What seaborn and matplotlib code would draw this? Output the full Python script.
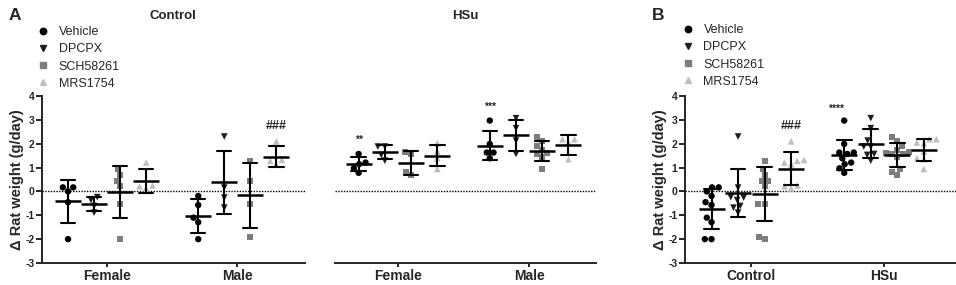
import numpy as np
import pandas as pd
import matplotlib
matplotlib.use("Agg")
import matplotlib.pyplot as plt
from matplotlib.lines import Line2D
import seaborn as sns

# ---------------- data ----------------
treatments = ["Vehicle", "DPCPX", "SCH58261", "MRS1754"]
sexes = ["Female", "Male"]
diets = ["Control", "HSu"]

ctrl_female_vehicle = [0.17, 0.0, 0.17, -0.45, -2.0]
ctrl_female_dpcpx = [-0.24, -0.36, -0.61, -0.89]
ctrl_female_sch = [0.93, 0.69, 0.45, 0.23, -0.52, -2.0]
ctrl_female_mrs = [1.21, 0.25, 0.22, 0.13]
ctrl_male_vehicle = [-0.19, -0.57, -1.10, -1.29, -2.0]
ctrl_male_dpcpx = [2.30, 0.16, -0.26, -0.68]
ctrl_male_sch = [1.29, 0.45, -0.52, -1.89]
ctrl_male_mrs = [2.10, 1.32, 1.28, 1.14]

hsu_female_vehicle = [1.57, 1.21, 1.14, 0.97, 0.78]
hsu_female_dpcpx = [1.88, 1.88, 1.53, 1.29]
hsu_female_sch = [1.67, 1.57, 0.83, 0.69]
hsu_female_mrs = [2.02, 1.67, 1.39, 0.94]
hsu_male_vehicle = [2.97, 1.99, 1.63, 1.63, 1.39]
hsu_male_dpcpx = [3.07, 2.65, 2.13, 1.57]
hsu_male_sch = [2.27, 2.13, 1.91, 1.75, 1.60, 1.57, 1.45, 0.92]
hsu_male_mrs = [2.19, 2.19, 2.05, 1.35]

groups = {
    ("Control", "Female"): [ctrl_female_vehicle, ctrl_female_dpcpx, ctrl_female_sch, ctrl_female_mrs],
    ("Control", "Male"): [ctrl_male_vehicle, ctrl_male_dpcpx, ctrl_male_sch, ctrl_male_mrs],
    ("HSu", "Female"): [hsu_female_vehicle, hsu_female_dpcpx, hsu_female_sch, hsu_female_mrs],
    ("HSu", "Male"): [hsu_male_vehicle, hsu_male_dpcpx, hsu_male_sch, hsu_male_mrs],
}
rows = []
for (diet, sex), lists in groups.items():
    for t, vals in zip(treatments, lists):
        for v in vals:
            rows.append({"Diet": diet, "Sex": sex, "Treatment": t, "Weight": v})
df = pd.DataFrame(rows)

colors = {"Vehicle": "#000000", "DPCPX": "#1e1e1e", "SCH58261": "#7d7d7d", "MRS1754": "#bfbfbf"}
markers = {"Vehicle": "o", "DPCPX": "v", "SCH58261": "s", "MRS1754": "^"}
msize = {"Vehicle": 4.6, "DPCPX": 4.8, "SCH58261": 4.3, "MRS1754": 4.8}

# ---------------- style ----------------
sns.set_style("ticks")
plt.rcParams["font.family"] = ["Liberation Sans", "DejaVu Sans"]
plt.rcParams["font.weight"] = "bold"
plt.rcParams["axes.labelweight"] = "bold"

W, H = 956, 285
fig = plt.figure(figsize=(W / 100, H / 100), dpi=100)


def rect(l, t, r, b):
    return [l / W, 1 - b / H, (r - l) / W, (b - t) / H]


axC = fig.add_axes(rect(42, 96, 305, 263))
axH = fig.add_axes(rect(335, 96, 596, 263))
axB = fig.add_axes(rect(685, 96, 957, 263))


def draw(ax, data, xcol, order):
    for t in treatments:
        sns.swarmplot(data=data[data.Treatment == t], x=xcol, y="Weight",
                      hue="Treatment", hue_order=treatments, order=order,
                      dodge=True, palette=colors, marker=markers[t],
                      size=msize[t], linewidth=0, legend=False, ax=ax, zorder=2)
    sns.pointplot(data=data, x=xcol, y="Weight", hue="Treatment",
                  hue_order=treatments, order=order, dodge=0.6,
                  palette=["black"] * 4, markers="_", linestyle="none",
                  errorbar="sd", capsize=0.11, markersize=19,
                  markeredgewidth=1.8, linewidth=1.5, legend=False, ax=ax)
    ax.axhline(0, color="black", lw=1.0, ls=(0, (1, 1)), zorder=1)
    ax.set_ylim(-3, 4)
    ax.set_xlabel("")
    ax.set_ylabel("")
    ax.tick_params(axis="x", length=3, width=1.4, labelsize=10, pad=1)
    for lab in ax.get_xticklabels():
        lab.set_fontweight("bold")
    for s in ["left", "bottom"]:
        ax.spines[s].set_linewidth(1.4)
    sns.despine(ax=ax)


draw(axC, df[df.Diet == "Control"], "Sex", sexes)
draw(axH, df[df.Diet == "HSu"], "Sex", sexes)
draw(axB, df, "Diet", diets)

axC.set_xlim(-0.5, 1.52)
axH.set_xlim(-0.48, 1.51)
axB.set_xlim(-0.5, 1.55)

for ax in (axC, axB):
    ax.set_yticks(range(-3, 5))
    ax.set_yticklabels([str(v) for v in range(-3, 5)], fontweight="bold")
    ax.tick_params(axis="y", length=4, width=1.4, labelsize=7.5, pad=1.5)
    ax.set_ylabel("\u0394 Rat weight (g/day)", fontsize=10.5, fontweight="bold", labelpad=1)

sns.despine(ax=axH, left=True)
axH.set_yticks([])

# significance marks
axH.text(-0.3, 2.05, "**", ha="center", va="baseline", fontsize=7.5, fontweight="bold")
axH.text(0.7, 3.44, "***", ha="center", va="baseline", fontsize=7.5, fontweight="bold")
axC.text(1.3, 2.75, "###", ha="center", va="center", fontsize=9, fontweight="bold")
axB.text(0.3, 2.75, "###", ha="center", va="center", fontsize=9, fontweight="bold")
axB.text(0.64, 3.35, "****", ha="center", va="baseline", fontsize=7.5, fontweight="bold")

# titles and panel letters
fig.text(173 / W, 1 - 16 / H, "Control", ha="center", va="center", fontsize=9.5, fontweight="bold")
fig.text(465 / W, 1 - 16 / H, "HSu", ha="center", va="center", fontsize=9.5, fontweight="bold")
fig.text(15 / W, 1 - 15 / H, "A", ha="center", va="center", fontsize=12.5, fontweight="bold")
fig.text(658 / W, 1 - 15 / H, "B", ha="center", va="center", fontsize=12.5, fontweight="bold")

# legends
handles = [Line2D([], [], marker=markers[t], color=colors[t], linestyle="none",
                  markersize=msize[t]) for t in treatments]
for x0, y0 in ((37, 26), (682, 24)):
    fig.legend(handles, treatments, loc="upper left",
               bbox_to_anchor=(x0 / W, 1 - y0 / H), frameon=False,
               handlelength=1.0, handletextpad=0.72, labelspacing=0.42,
               borderpad=0, borderaxespad=0,
               prop={"weight": "normal", "size": 9})

fig.savefig("out.png", dpi=100)
